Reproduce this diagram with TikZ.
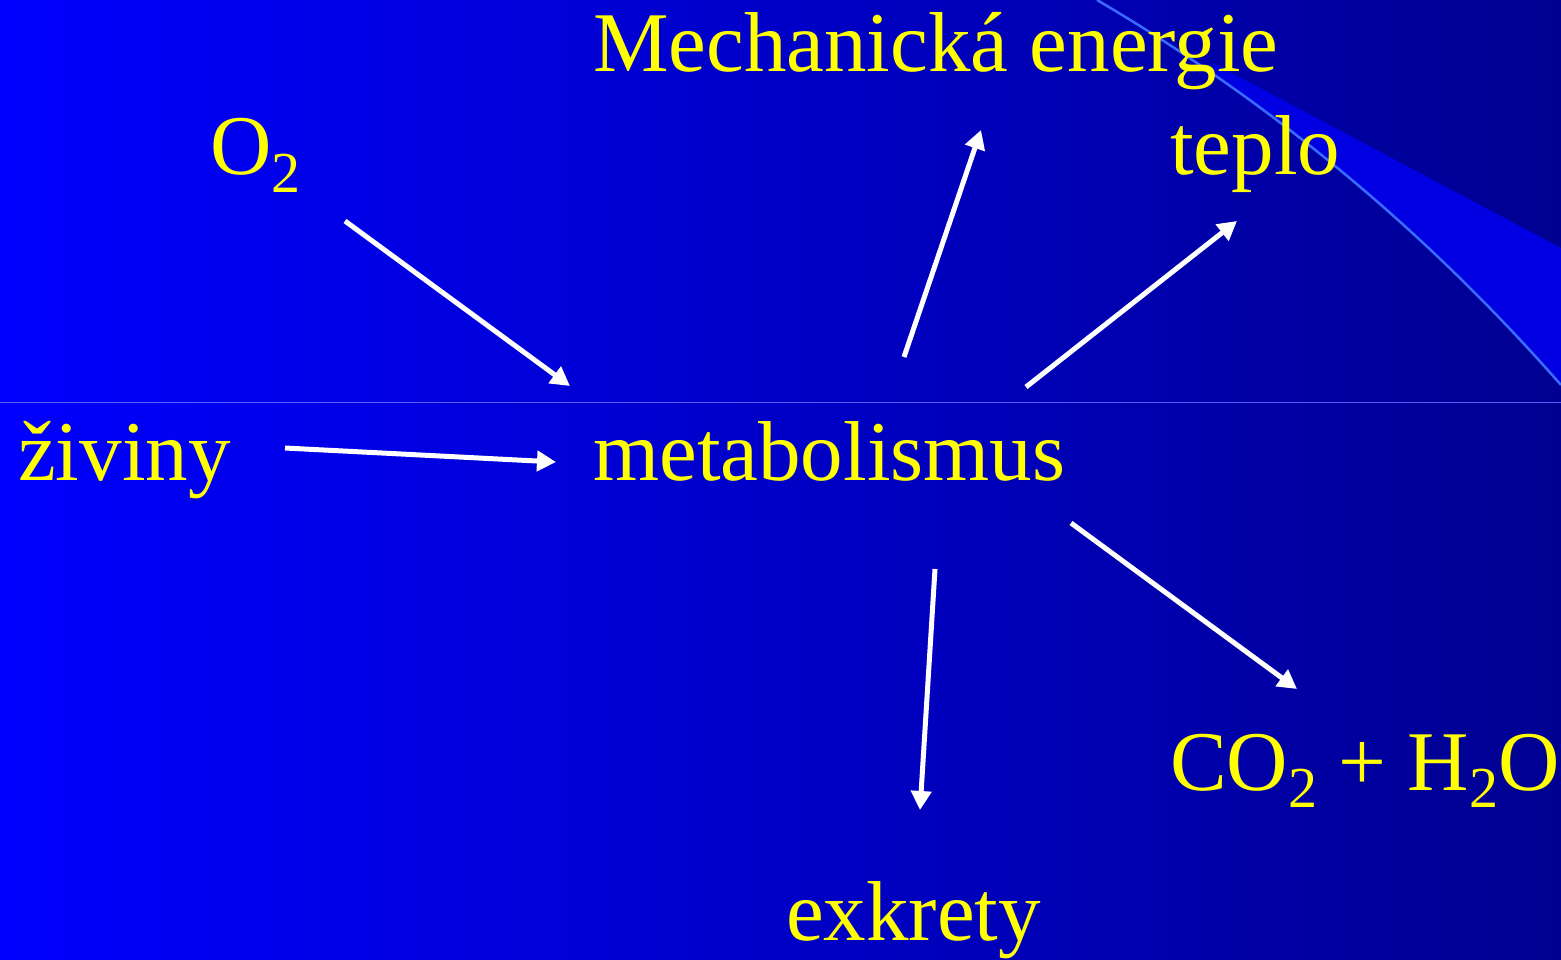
\documentclass[tikz,border=0pt]{standalone}
\usepackage{fontspec}
\setmainfont{Liberation Serif}
\usetikzlibrary{arrows.meta}
\definecolor{slideLeft}{HTML}{0000FF}
\definecolor{slideMid}{HTML}{0000E4}
\definecolor{slideRight}{HTML}{000090}
\definecolor{slideWedge}{HTML}{0000E2}
\definecolor{slideCurve}{HTML}{3A6BFF}
\definecolor{slideRule}{HTML}{5A5AFF}
\definecolor{slideText}{HTML}{FFFF00}
\newcommand{\subtwo}{\raisebox{-0.21em}{\fontsize{58}{60}\selectfont 2}}
\tikzset{
  term/.style={
    text=slideText,
    inner sep=0pt,
    anchor=base west,
    font=\fontsize{85}{100}\selectfont
  },
  flow/.style={-{Triangle[length=19pt,width=20pt]}, line width=5pt, draw=white}
}

\begin{document}
\begin{tikzpicture}[x=1pt, y=-1pt]
  \useasboundingbox (0,0) rectangle (1561,960);
  % background
  \shade[left color=slideLeft, middle color=slideMid, right color=slideRight] (0,0) rectangle (1561,960);
  \begin{scope}
    \clip (1097,0) .. controls (1310,125) and (1460,270) .. (1561,385) -- (1561,0) -- cycle;
    \fill[slideWedge] (1213,63) -- (1561,248) -- (1561,500) -- (1213,500) -- cycle;
  \end{scope}
  \draw[slideCurve, line width=2.5pt] (1097,0) .. controls (1310,125) and (1460,270) .. (1561,385);
  \draw[slideRule, line width=1pt] (0,402) -- (1561,402);

  % labels
  \node[term] (mech) at (593,72) {Mechanická energie};
  \node[term] (o2) at (210,175) {O\subtwo};
  \node[term] (teplo) at (1170,175) {teplo};
  \node[term] (ziviny) at (18,480) {živiny};
  \node[term] (metab) at (593,480) {metabolismus};
  \node[term] (waste) at (1170,790) {CO\subtwo{} + H\subtwo O};
  \node[term] (exkrety) at (786,940) {exkrety};

  % arrow ends
  \coordinate (o2tail) at (345,221);
  \coordinate (o2head) at (570,386);
  \coordinate (zivtail) at (285,448);
  \coordinate (zivhead) at (556,462);
  \coordinate (mechtail) at (904,357);
  \coordinate (mechhead) at (981,130);
  \coordinate (tepltail) at (1026,387);
  \coordinate (teplhead) at (1237,221);
  \coordinate (wastetail) at (1071,523);
  \coordinate (wastehead) at (1297,689);
  \coordinate (exktail) at (935,569);
  \coordinate (exkhead) at (920,810);

  \draw[flow] (o2tail) -- (o2head);
  \draw[flow] (zivtail) -- (zivhead);
  \draw[flow] (mechtail) -- (mechhead);
  \draw[flow] (tepltail) -- (teplhead);
  \draw[flow] (wastetail) -- (wastehead);
  \draw[flow] (exktail) -- (exkhead);
\end{tikzpicture}
\end{document}
